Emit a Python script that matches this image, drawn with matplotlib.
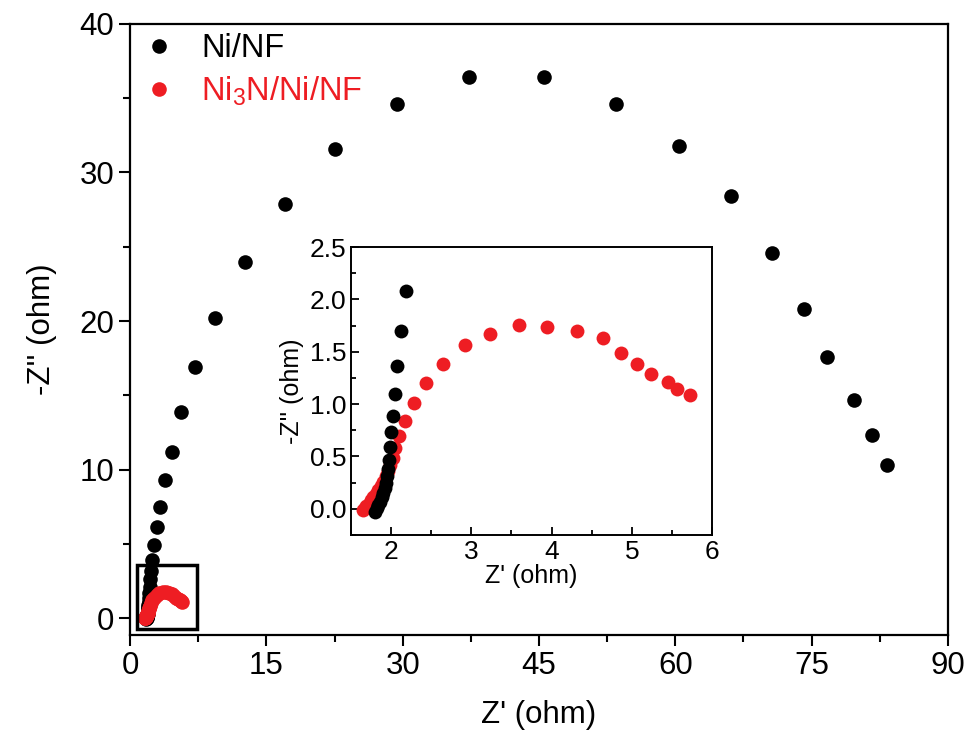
import numpy as np
import matplotlib
matplotlib.use("Agg")
from matplotlib import pyplot as plt
from matplotlib.patches import Rectangle

plt.rcParams['font.family'] = ['Liberation Sans', 'DejaVu Sans']
plt.rcParams['mathtext.default'] = 'regular'

# Ni/NF  (Z', -Z'')
ni_x = [83.3, 81.6, 79.7, 76.7, 74.2, 70.6, 66.1, 60.4, 53.5, 45.6, 37.3, 29.4,
        22.6, 17.0, 12.6, 9.4, 7.1, 5.6, 4.6, 3.8, 3.3, 3.0, 2.6, 2.4, 2.3,
        2.24, 2.18, 2.12, 2.07, 2.05, 2.02, 2.0, 1.99, 1.97, 1.96, 1.95, 1.94,
        1.92, 1.90, 1.88, 1.86, 1.84, 1.82, 1.80]
ni_y = [10.3, 12.3, 14.7, 17.6, 20.8, 24.6, 28.4, 31.8, 34.6, 36.4, 36.4, 34.6,
        31.6, 27.9, 24.0, 20.2, 16.9, 13.9, 11.2, 9.3, 7.5, 6.1, 4.9, 3.9, 3.15,
        2.62, 2.08, 1.70, 1.36, 1.10, 0.89, 0.73, 0.59, 0.47, 0.38, 0.31, 0.25,
        0.20, 0.15, 0.11, 0.07, 0.04, 0.01, -0.03]

# Ni3N/Ni/NF
n3_x = [5.73, 5.56, 5.45, 5.24, 5.07, 4.87, 4.64, 4.32, 3.94, 3.60, 3.23, 2.92,
        2.65, 2.44, 2.28, 2.17, 2.10, 2.05, 2.02, 1.99, 1.96, 1.93, 1.90, 1.87,
        1.84, 1.81, 1.78, 1.75, 1.72, 1.69, 1.67, 1.65]
n3_y = [1.09, 1.14, 1.21, 1.29, 1.38, 1.49, 1.63, 1.70, 1.74, 1.76, 1.67, 1.56,
        1.38, 1.20, 1.01, 0.84, 0.70, 0.58, 0.49, 0.42, 0.36, 0.31, 0.26, 0.22,
        0.18, 0.14, 0.11, 0.08, 0.05, 0.03, 0.01, -0.01]

black = '#000000'
red = '#ee1d23'

fig = plt.figure(figsize=(9.71, 7.40), dpi=100)
ax = fig.add_axes([0.1339, 0.1419, 0.8424, 0.8257])

ax.plot(ni_x, ni_y, 'o', color=black, ms=10.5, mec='none', zorder=2, label='Ni/NF')
ax.plot(n3_x, n3_y, 'o', color=red, ms=10.5, mec='none', zorder=3, label='Ni$_3$N/Ni/NF')

ax.set_xlim(0, 90)
ax.set_ylim(-1.14, 40)
ax.set_xticks(np.arange(0, 91, 15))
ax.set_xticks(np.arange(7.5, 90, 15), minor=True)
ax.set_yticks(np.arange(0, 41, 10))
ax.set_yticks(np.arange(5, 40, 10), minor=True)
ax.tick_params(which='major', direction='out', length=8, width=1.5, labelsize=22.5)
ax.tick_params(which='minor', direction='out', length=5, width=1.5)
for s in ax.spines.values():
    s.set_linewidth(1.6)
ax.set_xlabel("Z' (ohm)", fontsize=22.5, labelpad=14)
ax.set_ylabel("-Z'' (ohm)", fontsize=22.5, labelpad=16)

ax.add_patch(Rectangle((0.73, -0.74), 6.6, 4.31, fill=False, lw=2.5, ec='black', zorder=4))

leg = ax.legend(loc='upper left', frameon=False, fontsize=23.5, handletextpad=0.78,
                handlelength=1.0, borderaxespad=0.0, labelspacing=0.3,
                bbox_to_anchor=(0.0, 1.006))
for t, c in zip(leg.get_texts(), [black, red]):
    t.set_color(c)

# inset
ins = fig.add_axes([0.3615, 0.2770, 0.3718, 0.3892])
ins.plot(n3_x, n3_y, 'o', color=red, ms=10, mec='none', zorder=2)
ins.plot(ni_x, ni_y, 'o', color=black, ms=10, mec='none', zorder=3)
ins.set_xlim(1.5, 6)
ins.set_ylim(-0.25, 2.5)
ins.set_xticks(np.arange(2, 7, 1))
ins.set_xticks(np.arange(1.5, 6, 0.5), minor=True)
ins.set_yticks(np.arange(0, 2.51, 0.5))
ins.set_yticks(np.arange(-0.25, 2.5, 0.25), minor=True)
ins.yaxis.set_major_formatter(plt.FormatStrFormatter('%.1f'))
ins.tick_params(which='major', direction='in', length=6, width=1.3, labelsize=19)
ins.tick_params(which='minor', direction='in', length=3.5, width=1.3)
for s in ins.spines.values():
    s.set_linewidth(1.4)
ins.set_xlabel("Z' (ohm)", fontsize=18, labelpad=0)
ins.set_ylabel("-Z'' (ohm)", fontsize=18, labelpad=4)

fig.savefig('out.png', dpi=100)
